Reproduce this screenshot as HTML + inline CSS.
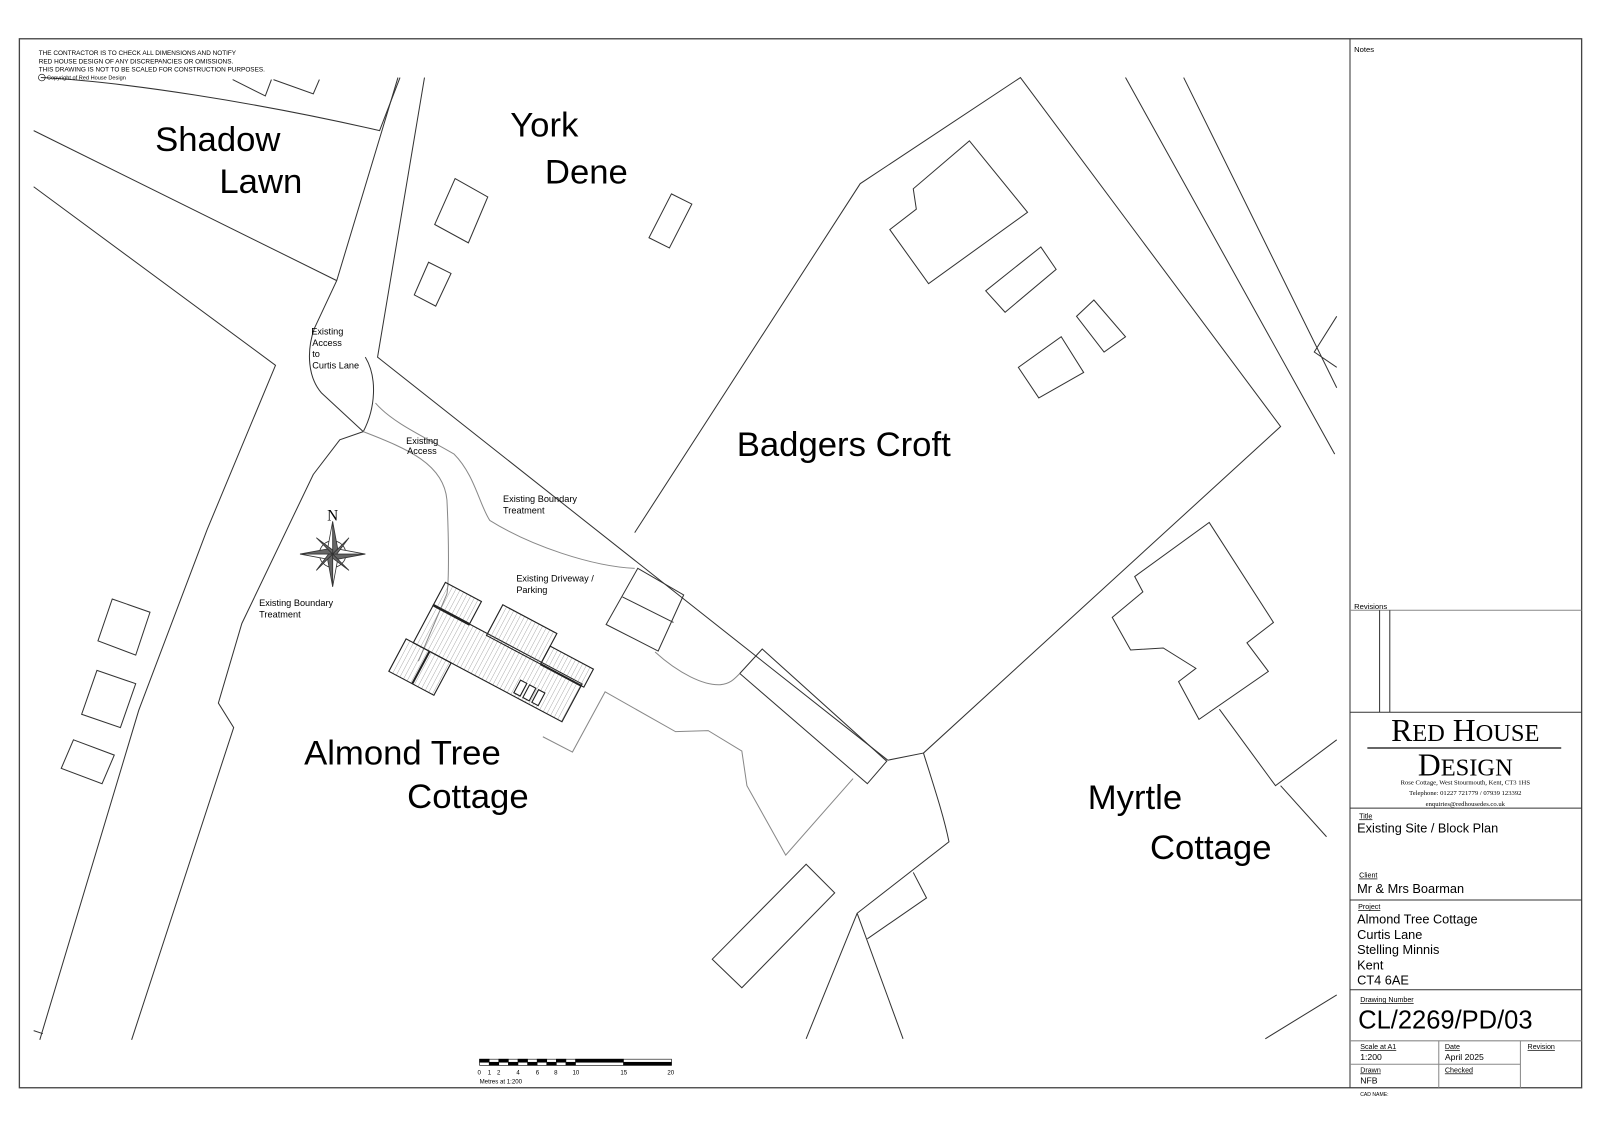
<!DOCTYPE html>
<html><head><meta charset="utf-8"><style>
html,body{margin:0;padding:0;background:#fff}
svg{display:block}
text{font-family:"Liberation Sans",sans-serif;fill:#000}
.s{font-family:"Liberation Serif",serif}
</style></head><body>
<svg width="1600" height="1130" viewBox="0 0 1568 1107.4" xmlns="http://www.w3.org/2000/svg">
<defs>
<pattern id="h" width="4" height="4" patternUnits="userSpaceOnUse"><line x1="0" y1="0" x2="0" y2="4" stroke="#777" stroke-width="0.6"/></pattern>
</defs>
<g fill="none" stroke="#333" stroke-width="1">
<rect x="19" y="38" width="1531" height="1028" stroke="#444" stroke-width="1.3"/>
<line x1="1323" y1="38" x2="1323" y2="1066"/>
<line x1="1323" y1="598" x2="1550" y2="598" stroke="#888"/>
<line x1="1352" y1="598" x2="1352" y2="698"/><line x1="1362" y1="598" x2="1362" y2="698"/>
<line x1="1323" y1="698" x2="1550" y2="698"/>
<line x1="1323" y1="792" x2="1550" y2="792"/>
<line x1="1323" y1="882" x2="1550" y2="882"/>
<line x1="1323" y1="970" x2="1550" y2="970"/>
<line x1="1323" y1="1020" x2="1550" y2="1020" stroke="#888"/>
<line x1="1410" y1="1020" x2="1410" y2="1066" stroke="#888"/>
<line x1="1490" y1="1020" x2="1490" y2="1066" stroke="#888"/>
<line x1="1323" y1="1043" x2="1490" y2="1043" stroke="#888"/>
<line x1="1340" y1="733" x2="1530" y2="733" stroke-width="1.5"/>
<path d="M40,76 C120,80 250,100 372,128 L392,76"/>
<path d="M228,78 L260,94 L266,78 M268,78 L307,92 L313,78"/>
<path d="M33,128 L330,275"/>
<path d="M33,183 L270,358 L203,519 L181,577 L136,696 L39,1019 M33,1010 L42,1013"/>
<path d="M356,423 L333,431 L307,465 L237,611 L214,689 L229,713 L129,1019"/>
<path d="M390,76 L330,275 L308,322 C300,345 302,370 315,385 L356,423"/>
<path d="M416,76 L370,350 L870,745"/>
<path d="M358,350 C370,370 368,400 356,423"/>
<path d="M622,522 L843,180 L1000,76 L1255,418 L905,738"/>
<path d="M1103,76 L1308,445 M1160,76 L1310,380 M1310,310 L1288,345 L1310,360"/>
<path d="M870,745 L905,738 C915,770 925,800 930,825 L840,895 L885,1018 M850,920 L908,880 L895,855 M840,895 L790,1018"/>
<path d="M1185,512 L1248,610 L1222,630 L1243,658 L1175,705 L1155,668 L1172,655 L1140,635 L1108,637 L1090,605 L1120,580 L1112,565 Z"/>
<path d="M1195,695 L1250,770 L1310,725 M1255,770 L1300,820 M1240,1018 L1310,975"/>
<polygon points="446,175 478,193 459,238 426,220"/>
<polygon points="420,257 442,268 427,300 406,289"/>
<polygon points="658,190 678,200 656,243 636,233"/>
<path d="M950,138 L1007,208 L910,278 L872,225 L898,205 L895,185 Z"/>
<polygon points="1020,242 1035,264 985,306 966,285"/>
<polygon points="1072,294 1103,330 1082,345 1055,310"/>
<polygon points="1040,330 1062,365 1018,390 998,360"/>
<polygon points="625,557 670,583 645,638 594,612"/><line x1="610" y1="585" x2="660" y2="610"/>
<polygon points="747,636 869,746 850,768 725,660"/>
<polygon points="790,847 818,875 727,968 698,940"/>
<polygon points="110,587 147,600 133,642 96,628"/>
<polygon points="95,657 133,670 118,713 80,700"/>
<polygon points="72,725 112,740 100,768 60,753"/>
</g>
<g fill="none" stroke="#888" stroke-width="1">
<path d="M368,395 C385,415 420,430 445,445 C465,465 470,495 480,510 C520,535 580,555 622,557"/>
<path d="M356,423 C400,440 435,455 438,490 C440,530 440,570 438,582 L410,648"/>
<path d="M642,639 C665,660 690,672 706,671 C716,670 720,665 725,660"/>
<path d="M532,722 L561,737 L593,678 L662,717 L694,716 L727,736 L732,770 L770,838 L836,763"/>
</g>
<g transform="translate(486,648) rotate(28)" stroke="#222" stroke-width="1.1">
<rect x="-80" y="-20" width="165" height="42" fill="url(#h)"/>
<rect x="-20" y="-52" width="60" height="34" fill="url(#h)"/>
<rect x="-80" y="-45" width="40" height="26" fill="url(#h)"/>
<rect x="40" y="-38" width="48" height="20" fill="url(#h)"/>
<rect x="-88" y="22" width="50" height="36" fill="url(#h)"/>
<line x1="-62" y1="22" x2="-62" y2="58" stroke-width="2"/>
<line x1="-80" y1="-20" x2="-40" y2="-20" stroke-width="2"/>
<line x1="40" y1="-18" x2="85" y2="-18" stroke-width="2"/>
<rect x="30" y="5" width="7" height="14" fill="#fff"/><rect x="40" y="5" width="7" height="14" fill="#fff"/><rect x="50" y="5" width="7" height="14" fill="#fff"/>
</g>
<g transform="translate(326,543)" stroke="#333" stroke-width="0.8">
<circle r="13" fill="none"/>
<polygon points="0,-32 5,-5 0,0" fill="#666"/><polygon points="0,-32 -5,-5 0,0" fill="#fff"/>
<polygon points="0,32 5,5 0,0" fill="#fff"/><polygon points="0,32 -5,5 0,0" fill="#666"/>
<polygon points="32,0 5,5 0,0" fill="#666"/><polygon points="32,0 5,-5 0,0" fill="#fff"/>
<polygon points="-32,0 -5,5 0,0" fill="#fff"/><polygon points="-32,0 -5,-5 0,0" fill="#666"/>
<polygon points="16,-16 4,0 0,0" fill="#666"/><polygon points="-16,16 -4,0 0,0" fill="#666"/>
<polygon points="-16,-16 0,-4 0,0" fill="#666"/><polygon points="16,16 0,4 0,0" fill="#666"/>
</g>
<text x="326" y="510" text-anchor="middle" class="s" font-size="15">N</text>
<g stroke="#000" stroke-width="0.6">
<rect x="470" y="1038" width="188" height="6" fill="#fff"/>
<rect x="470" y="1038" width="9.4" height="3" fill="#000"/><rect x="479.4" y="1041" width="9.4" height="3" fill="#000"/>
<rect x="488.8" y="1038" width="9.4" height="3" fill="#000"/><rect x="498.2" y="1041" width="9.4" height="3" fill="#000"/>
<rect x="507.6" y="1038" width="9.4" height="3" fill="#000"/><rect x="517" y="1041" width="9.4" height="3" fill="#000"/>
<rect x="526.4" y="1038" width="9.4" height="3" fill="#000"/><rect x="535.8" y="1041" width="9.4" height="3" fill="#000"/>
<rect x="545.2" y="1038" width="9.4" height="3" fill="#000"/><rect x="554.6" y="1041" width="9.4" height="3" fill="#000"/>
<rect x="564" y="1038" width="47" height="3" fill="#000"/><rect x="611" y="1041" width="47" height="3" fill="#000"/>
</g>
<g font-size="6">
<text x="468" y="1053">0</text><text x="478" y="1053">1</text><text x="487" y="1053">2</text><text x="506" y="1053">4</text><text x="525" y="1053">6</text><text x="543" y="1053">8</text><text x="561" y="1053">10</text><text x="608" y="1053">15</text><text x="654" y="1053">20</text>
<text x="470" y="1062">Metres at 1:200</text>
</g>
<g font-size="6.3">
<text x="38" y="54">THE CONTRACTOR IS TO CHECK ALL DIMENSIONS AND NOTIFY</text>
<text x="38" y="62">RED HOUSE DESIGN OF ANY DISCREPANCIES OR OMISSIONS.</text>
<text x="38" y="70">THIS DRAWING IS NOT TO BE SCALED FOR CONSTRUCTION PURPOSES.</text>
<text x="46" y="78" font-size="5.5">Copyright of Red House Design</text>
</g>
<circle cx="41" cy="76" r="3.3" fill="none" stroke="#000" stroke-width="0.6"/>
<g font-size="34">
<text x="152" y="148">Shadow</text><text x="215" y="189">Lawn</text>
<text x="500" y="134">York</text><text x="534" y="180">Dene</text>
<text x="722" y="447">Badgers Croft</text>
<text x="298" y="749">Almond Tree</text><text x="399" y="792">Cottage</text>
<text x="1066" y="793">Myrtle</text><text x="1127" y="842">Cottage</text>
</g>
<g font-size="9">
<text x="305" y="328">Existing</text><text x="306" y="339">Access</text><text x="306" y="350">to</text><text x="306" y="361">Curtis Lane</text>
<text x="398" y="435">Existing</text><text x="399" y="445">Access</text>
<text x="493" y="492">Existing Boundary</text><text x="493" y="503">Treatment</text>
<text x="506" y="570">Existing Driveway /</text><text x="506" y="581">Parking</text>
<text x="254" y="594">Existing Boundary</text><text x="254" y="605">Treatment</text>
</g>
<g font-size="7.5"><text x="1327" y="51">Notes</text><text x="1327" y="597">Revisions</text></g>
<text x="1436" y="726" text-anchor="middle" class="s" font-size="31" fill="#222">R<tspan font-size="24">ED</tspan> H<tspan font-size="24">OUSE</tspan></text>
<text x="1436" y="760" text-anchor="middle" class="s" font-size="31" fill="#222">D<tspan font-size="24">ESIGN</tspan></text>
<g class="s" font-size="6.5" text-anchor="middle">
<text x="1436" y="769" class="s">Rose Cottage, West Stourmouth, Kent, CT3 1HS</text>
<text x="1436" y="779" class="s">Telephone: 01227 721779 / 07939 123392</text>
<text x="1436" y="790" class="s">enquiries@redhousedes.co.uk</text>
</g>
<g font-size="7" text-decoration="underline">
<text x="1332" y="802">Title</text><text x="1332" y="860">Client</text><text x="1331" y="891">Project</text><text x="1333" y="982">Drawing Number</text>
<text x="1333" y="1028">Scale at A1</text><text x="1416" y="1028">Date</text><text x="1497" y="1028">Revision</text>
<text x="1333" y="1051">Drawn</text><text x="1416" y="1051">Checked</text>
</g>
<g font-size="12.5">
<text x="1330" y="816">Existing Site / Block Plan</text>
<text x="1330" y="875">Mr &amp; Mrs Boarman</text>
<text x="1330" y="905">Almond Tree Cottage</text><text x="1330" y="920">Curtis Lane</text><text x="1330" y="935">Stelling Minnis</text><text x="1330" y="950">Kent</text><text x="1330" y="965">CT4 6AE</text>
</g>
<text x="1331" y="1008" font-size="25">CL/2269/PD/03</text>
<g font-size="8.5"><text x="1333" y="1039">1:200</text><text x="1416" y="1039">April 2025</text><text x="1333" y="1062">NFB</text></g>
<text x="1333" y="1074" font-size="5">CAD NAME:</text>
</svg>
</body></html>
